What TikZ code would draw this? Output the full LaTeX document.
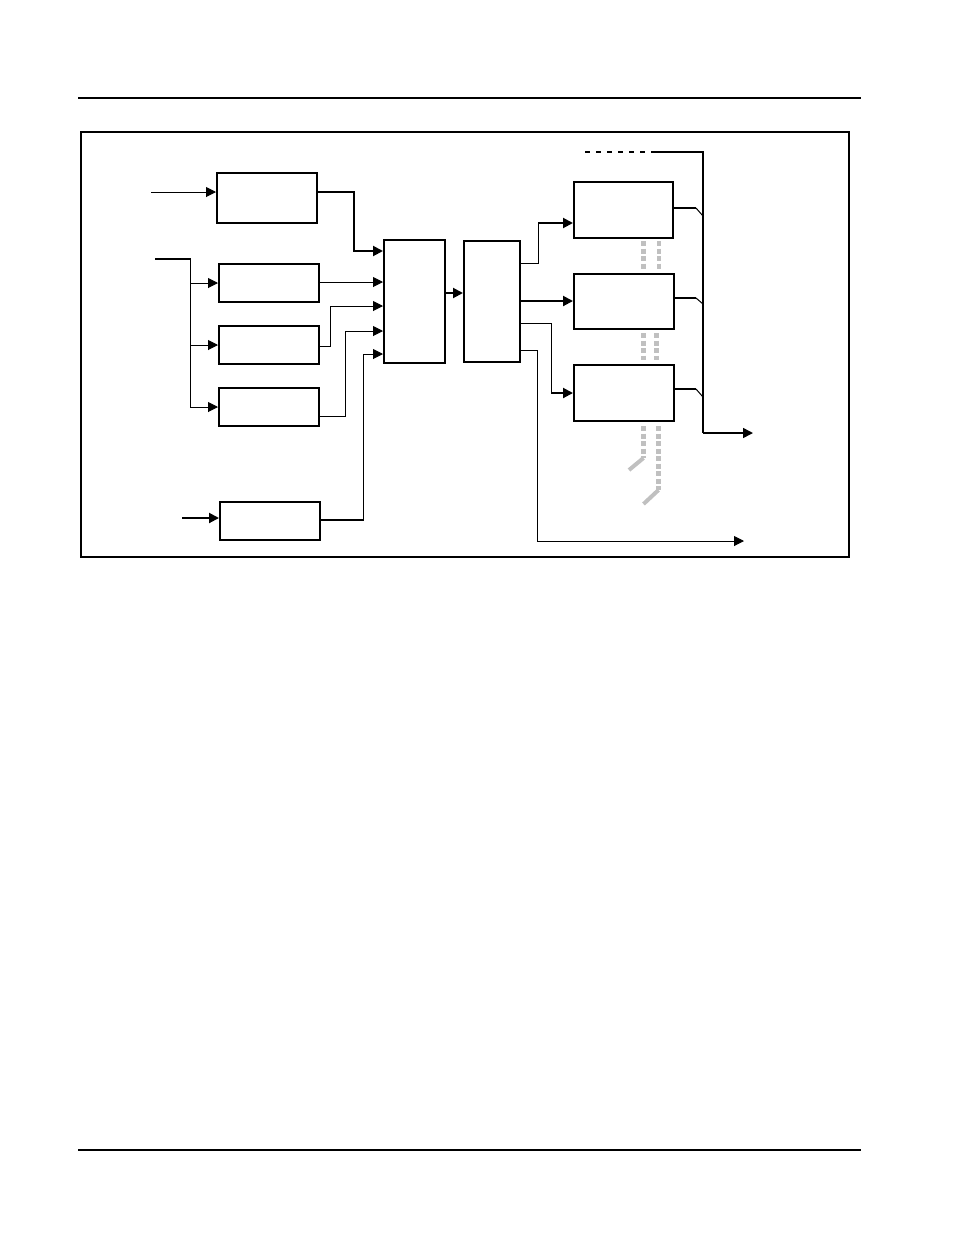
\documentclass[tikz,border=0pt]{standalone}
\usetikzlibrary{arrows.meta}
\definecolor{lgray}{RGB}{192,192,192}
\begin{document}
\begin{tikzpicture}[x=1pt,y=-1pt,
  box/.style={draw, line width=2pt, rectangle, inner sep=0pt},
  thinln/.style={line width=1pt},
  thickln/.style={line width=2pt},
  arr/.style={-{Triangle[length=10pt,width=10pt]}},
  graydash/.style={draw=lgray, line width=4.5pt, dash pattern=on 5pt off 2.5pt},
  grayslash/.style={draw=lgray, line width=4pt}
]
\useasboundingbox (0,0) rectangle (954,1235);
% page rules
\draw[line width=1.2pt] (78,98) coordinate (r1a) -- (861,98) coordinate (r1b);
\draw[line width=1.2pt] (78,1150) coordinate (r2a) -- (861,1150) coordinate (r2b);
% frame
\node[draw, line width=2pt, minimum width=768pt, minimum height=425pt, inner sep=0pt] (frame) at (465,344.5) {};
% boxes
\node[box, minimum width=100pt, minimum height=50pt] (A) at (267,198) {};
\node[box, minimum width=100pt, minimum height=38pt] (B) at (269,283) {};
\node[box, minimum width=100pt, minimum height=38pt] (C) at (269,345) {};
\node[box, minimum width=100pt, minimum height=38pt] (D) at (269,407) {};
\node[box, minimum width=100pt, minimum height=38pt] (E) at (270,521) {};
\node[box, minimum width=61pt, minimum height=123pt] (mux) at (414.5,301.5) {};
\node[box, minimum width=56pt, minimum height=121pt] (F) at (492,301.5) {};
\node[box, minimum width=99pt, minimum height=56pt] (G) at (623.5,210) {};
\node[box, minimum width=100pt, minimum height=55pt] (H) at (624,301.5) {};
\node[box, minimum width=100pt, minimum height=56pt] (I) at (624,393) {};
% free ends
\coordinate (inA) at (151,192);
\coordinate (inSplit) at (155,259);
\coordinate (inE) at (182,518);
\coordinate (busTop) at (703,152);
\coordinate (busOut) at (753,433);
\coordinate (fOut) at (744,541);
% input to A
\draw[thinln, arr] (inA) -- (A.west |- inA);
% splitter to B, C, D
\draw[thickln] (inSplit) -- (190,259);
\draw[thinln] (190,258) -- (190,407);
\draw[thinln, arr] (190,283) -- (B.west);
\draw[thinln, arr] (190,345) -- (C.west);
\draw[thinln, arr] (190,407) -- (D.west);
% input to E
\draw[thickln, arr] (inE) -- (E.west |- inE);
% into mux
\draw[thickln, arr] (A.east |- 0,192) -| (354,251) -- (mux.west |- 0,251);
\draw[thinln, arr] (B.east |- 0,282) -- (mux.west |- 0,282);
\draw[thinln, arr] (C.east |- 0,346) -| (330,306) -- (mux.west |- 0,306);
\draw[thinln, arr] (D.east |- 0,416) -| (345,331) -- (mux.west |- 0,331);
\draw[thinln, arr] (E.east |- 0,520) -| (363,354) -- (mux.west |- 0,354);
\draw[thickln] (E.east |- 0,520) -- (363,520);
% mux to F
\draw[thickln, arr] (mux.east |- 0,293) -- (F.west |- 0,293);
% F outputs
\draw[thinln] (F.east |- 0,263) -- (538,263) -- (538,223);
\draw[thickln, arr] (538,223) -- (G.west |- 0,223);
\draw[thickln, arr] (F.east |- 0,301) -- (H.west |- 0,301);
\draw[thinln] (F.east |- 0,323) -- (551,323) -- (551,393);
\draw[thickln, arr] (551,393) -- (I.west |- 0,393);
\draw[thinln, arr] (F.east |- 0,350) -- (537,350) -- (537,541) -- (fOut);
% bus
\draw[thickln, dash pattern=on 5pt off 6pt] (585,152) -- (652,152);
\draw[thickln] (652,152) -- (busTop) -- (703,433);
\draw[line width=1.5pt, arr] (703,433) -- (busOut);
\draw[thickln] (G.east |- 0,208) -- (696,208);
\draw[thinln] (696,208) -- (703,216);
\draw[thickln] (H.east |- 0,298) -- (696,298);
\draw[thinln] (696,298) -- (703,304);
\draw[thickln] (I.east |- 0,389) -- (696,389);
\draw[thinln] (696,389) -- (703,397);
% gray dashed pairs
\draw[graydash] (643.5,241) -- (643.5,269);
\draw[graydash] (659,241) -- (659,269);
\draw[graydash] (643.5,333) -- (643.5,360);
\draw[graydash] (656.5,333) -- (656.5,360);
\draw[graydash] (643.5,426) -- (643.5,458);
\draw[grayslash] (643.5,458) -- (629,470);
\draw[graydash] (658.5,426) -- (658.5,490);
\draw[grayslash] (658.5,490) -- (643.5,504);
\end{tikzpicture}
\end{document}
